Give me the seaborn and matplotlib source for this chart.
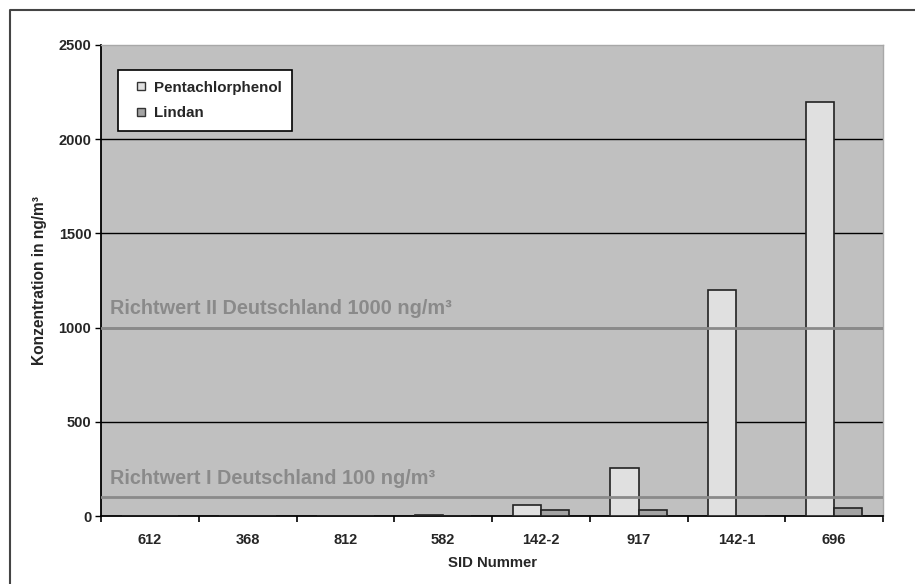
import numpy as np
import pandas as pd
import matplotlib
matplotlib.use("Agg")
import matplotlib.pyplot as plt
import seaborn as sns
from matplotlib.lines import Line2D

# =========================
# Data
# =========================
sid = ["612", "368", "812", "582", "142-2", "917", "142-1", "696"]
pentachlorphenol = [0, 0, 0, 5, 60, 255, 1200, 2200]
lindan = [0, 0, 0, 0, 30, 30, 0, 45]
series = ["Pentachlorphenol", "Lindan"]
richtwerte = [1000, 100]
richtwert_labels = ["Richtwert II Deutschland 1000 ng/m³",
                    "Richtwert I Deutschland 100 ng/m³"]
yticks = [0, 500, 1000, 1500, 2000, 2500]

df = pd.DataFrame({
    "SID": sid * 2,
    "Wert": pentachlorphenol + lindan,
    "Stoff": [series[0]] * len(sid) + [series[1]] * len(sid),
})

colors = {"Pentachlorphenol": "#e0e0e0", "Lindan": "#a3a3a3"}

sns.set_theme(style="white")
plt.rcParams["font.family"] = ["Liberation Sans", "DejaVu Sans"]

fig = plt.figure(figsize=(9.15, 5.84), dpi=100)
ax = fig.add_axes([101 / 915, 1 - 516 / 584, 782 / 915, 471 / 584])
ax.set_facecolor("#c0c0c0")

sns.barplot(data=df, x="SID", y="Wert", hue="Stoff", order=sid,
            hue_order=series, palette=colors, width=0.58, gap=0,
            edgecolor="#222222", linewidth=1.2, legend=False, ax=ax,
            zorder=3)

# gridlines
for v in yticks[1:-1]:
    ax.axhline(v, color="black", lw=1, zorder=1)

# Richtwerte
for v, lab in zip(richtwerte, richtwert_labels):
    ax.axhline(v, color="#8a8a8a", lw=2, zorder=4)
    ax.text(0.012, v + 50, lab, transform=ax.get_yaxis_transform(),
            color="#8a8a8a", fontsize=14.3, fontweight="bold",
            va="bottom", ha="left", zorder=5)

ax.set_xlim(-0.5, len(sid) - 0.5)
ax.set_ylim(0, 2500)
ax.set_yticks(yticks)
ax.set_yticklabels([str(t) for t in yticks], fontsize=10.5, fontweight="bold")

# category boundaries as ticks, labels centered
ax.set_xticks(np.arange(len(sid) + 1) - 0.5)
ax.set_xticklabels([])
ax.set_xticks(np.arange(len(sid)), minor=True)
ax.set_xticklabels(sid, minor=True, fontsize=10.5, fontweight="bold")
ax.tick_params(axis="x", which="major", direction="out", length=4,
               width=1.2, color="black", bottom=True)
ax.tick_params(axis="x", which="minor", length=0, pad=12)
ax.tick_params(axis="y", direction="out", length=4, width=1, color="black",
               left=True, pad=3)

ax.set_xlabel("SID Nummer", fontsize=10.7, fontweight="bold", labelpad=7)
ax.set_ylabel("Konzentration in ng/m³", fontsize=11.2, fontweight="bold",
              labelpad=8)

for s in ["left", "bottom"]:
    ax.spines[s].set_color("black")
    ax.spines[s].set_linewidth(1.3)
for s in ["top", "right"]:
    ax.spines[s].set_color("#a8a8a8")
    ax.spines[s].set_linewidth(1)

# legend
handles = [Line2D([], [], marker="s", linestyle="none", markersize=6,
                  markerfacecolor=colors[s], markeredgecolor="#333333",
                  markeredgewidth=1) for s in series]
leg = ax.legend(handles, series, loc="upper left",
                bbox_to_anchor=(0.022, 0.947), frameon=True, fancybox=False,
                prop={"weight": "bold", "size": 10.9}, handlelength=1.6,
                handletextpad=0.05, labelspacing=0.75, borderpad=0.7,
                borderaxespad=0)
leg.get_frame().set_edgecolor("black")
leg.get_frame().set_linewidth(1.2)
leg.get_frame().set_facecolor("white")
leg.get_frame().set_alpha(1)
leg.set_zorder(6)

# outer frame (left and top edge)
fx = 10 / 915
fy = 1 - 10 / 584
fig.add_artist(Line2D([fx, fx, 1], [0, fy, fy], transform=fig.transFigure,
                      color="#444444", lw=1.5))

fig.savefig("out.png", dpi=100)
